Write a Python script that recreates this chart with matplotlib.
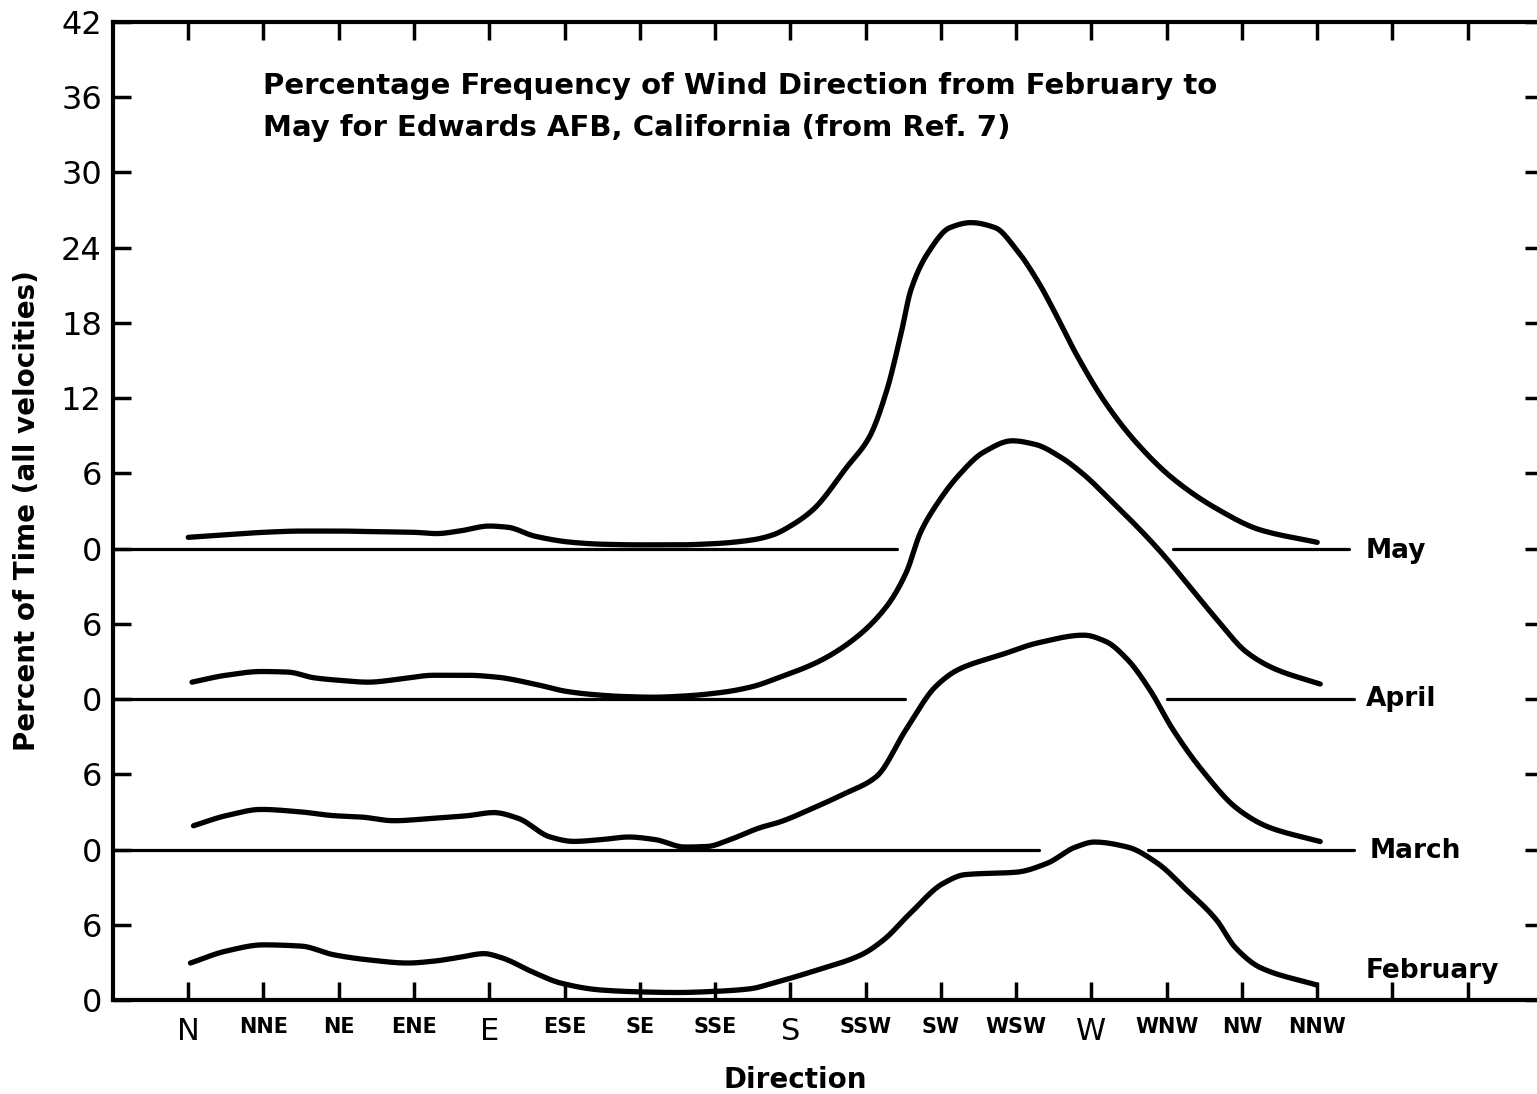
import numpy as np
import matplotlib
matplotlib.use("Agg")
import matplotlib.pyplot as plt

# wind direction categories (x positions 0..15)
directions = ["N", "NNE", "NE", "ENE", "E", "ESE", "SE", "SSE",
              "S", "SSW", "SW", "WSW", "W", "WNW", "NW", "NNW"]

# percent of time (x in direction units)
may_x = [0.0, 0.5, 1.0, 1.5, 2.0, 2.5, 3.0, 3.3, 3.6, 4.0, 4.25, 4.6, 5.1, 5.5,
         6.0, 6.5, 7.0, 7.5, 7.77, 8.0, 8.3, 8.75, 9.05, 9.28, 9.48, 9.6, 9.83,
         10.12, 10.4, 10.72, 11.01, 11.3, 11.5, 11.79, 12.19, 12.59, 13.08,
         13.66, 14.24, 15.0]
may_y = [0.9, 1.1, 1.3, 1.4, 1.4, 1.35, 1.3, 1.2, 1.4, 1.8, 1.7, 1.0, 0.5, 0.35,
         0.3, 0.3, 0.4, 0.7, 1.1, 1.8, 3.1, 6.5, 8.9, 12.6, 17.4, 20.6, 23.6,
         25.6, 26.0, 25.6, 23.8, 21.2, 19.0, 15.6, 11.6, 8.5, 5.6,
         3.2, 1.5, 0.5]

april_x = [0.05, 0.5, 0.97, 1.33, 1.67, 2.0, 2.39, 2.82, 3.26, 3.71, 4.1, 4.6,
           5.04, 5.4, 5.8, 6.18, 6.6, 7.11, 7.5, 7.86, 8.36, 8.85, 9.28, 9.54,
           9.73, 9.93, 10.23, 10.57, 10.95, 11.26, 11.59, 11.9, 12.28, 12.68,
           12.97, 13.26, 13.66, 14.06, 14.44, 15.04]
april_y = [1.35, 1.9, 2.2, 2.15, 1.7, 1.5, 1.35, 1.6, 1.9, 1.9, 1.75, 1.2,
           0.6, 0.35, 0.2, 0.15, 0.25, 0.55, 1.0, 1.75, 2.95, 4.8, 7.4, 10.1,
           13.3, 15.4, 17.8, 19.7, 20.6, 20.3, 19.3, 17.9, 15.7, 13.3,
           11.4, 9.3, 6.4, 3.75, 2.4, 1.2]

march_x = [0.07, 0.5, 0.97, 1.5, 1.94, 2.29, 2.73, 3.26, 3.71, 4.06, 4.38,
           4.81, 5.12, 5.5, 5.85, 6.2, 6.6, 6.9, 7.2, 7.6, 7.86, 8.3, 8.7,
           9.14, 9.54, 9.93, 10.23, 10.81, 11.3, 11.9, 12.19, 12.48, 12.77,
           13.08, 13.46, 13.95, 14.35, 15.04]
march_y = [1.9, 2.7, 3.2, 3.0, 2.7, 2.6, 2.3, 2.5, 2.7, 2.95, 2.5,
           1.0, 0.65, 0.8, 1.0, 0.8, 0.2, 0.25, 0.8, 1.75, 2.2, 3.3, 4.4,
           5.8, 9.6, 13.0, 14.35, 15.55, 16.5, 17.1, 16.6, 15.15, 12.8,
           9.6, 6.4, 3.2, 1.8, 0.64]

feb_x = [0.03, 0.5, 1.0, 1.5, 1.94, 2.4, 2.92, 3.26, 3.6, 3.93, 4.15, 4.59,
         4.95, 5.48, 6.0, 6.5, 7.03, 7.47, 7.77, 8.36, 8.94, 9.24, 9.59, 10.03,
         10.32, 11.01, 11.41, 11.79, 12.04, 12.48, 12.88, 13.26, 13.66, 13.91,
         14.24, 14.99]
feb_y = [2.95, 3.9, 4.4, 4.3, 3.6, 3.2, 2.95, 3.1, 3.4, 3.7, 3.4, 2.2,
         1.35, 0.8, 0.65, 0.6, 0.7, 0.9, 1.35, 2.4, 3.6, 4.8, 6.9, 9.3,
         10.0, 10.2, 10.9, 12.2, 12.6, 12.2, 10.9, 8.8, 6.4, 4.2,
         2.6, 1.2]

months = ["February", "March", "April", "May"]
offsets = [0, 12, 24, 36]
ytick_labels = ["0", "6", "0", "6", "0", "6", "0", "6",
                "12", "18", "24", "30", "36", "42"]

# zero lines are broken where the curve above them passes through
baseline_pieces = {
    "March": [(-1, 11.31), (12.75, 15.49)],
    "April": [(-1, 9.52), (13.0, 15.49)],
    "May": [(-1, 9.42), (13.08, 15.42)],
}


def smooth(xs, ys, n=12):
    # monotone cubic (Fritsch-Carlson) just to draw a smooth pen line
    x = np.asarray(xs, float)
    y = np.asarray(ys, float)
    h = np.diff(x)
    d = np.diff(y) / h
    m = np.zeros_like(y)
    m[0], m[-1] = d[0], d[-1]
    for i in range(1, len(y) - 1):
        if d[i - 1] * d[i] > 0:
            w1 = 2 * h[i] + h[i - 1]
            w2 = h[i] + 2 * h[i - 1]
            m[i] = (w1 + w2) / (w1 / d[i - 1] + w2 / d[i])
    out_x, out_y = [], []
    for i in range(len(x) - 1):
        t = np.linspace(0, 1, n, endpoint=False)
        h00 = 2 * t**3 - 3 * t**2 + 1
        h10 = t**3 - 2 * t**2 + t
        h01 = -2 * t**3 + 3 * t**2
        h11 = t**3 - t**2
        out_x.extend(x[i] + t * h[i])
        out_y.extend(h00 * y[i] + h10 * h[i] * m[i] + h01 * y[i + 1]
                     + h11 * h[i] * m[i + 1])
    out_x.append(x[-1])
    out_y.append(y[-1])
    return np.array(out_x), np.array(out_y)


fig = plt.figure(figsize=(15.37, 10.94), dpi=100)
ax = fig.add_axes([0.0735, 0.0859, 0.9304, 0.894])
ax.set_xlim(-1, 18)
ax.set_ylim(0, 78)

curves = [(feb_x, feb_y), (march_x, march_y), (april_x, april_y), (may_x, may_y)]
for (xs, ys), off in zip(curves, offsets):
    sx, sy = smooth(xs, ys)
    ax.plot(sx, sy + off, color="black", lw=3.8,
            solid_joinstyle="round", solid_capstyle="round")

for name, off in zip(months, offsets):
    for x0, x1 in baseline_pieces.get(name, []):
        ax.plot([x0, x1], [off, off], color="black", lw=2.3,
                solid_capstyle="round")

label_pos = {"May": (15.65, 35.8), "April": (15.65, 24),
             "March": (15.7, 11.9), "February": (15.65, 2.3)}
for name, (lx, ly) in label_pos.items():
    ax.text(lx, ly, name, fontsize=19, fontweight="bold", va="center", ha="left")

for s in ax.spines.values():
    s.set_linewidth(3.0)

ax.set_xticks(range(18))
ax.set_xticklabels(directions + ["", ""])
for lbl, d in zip(ax.get_xticklabels(), directions + ["", ""]):
    if len(d) == 1:
        lbl.set_fontsize(22)
        lbl.set_fontweight("normal")
    else:
        lbl.set_fontsize(15)
        lbl.set_fontweight("bold")
ax.set_yticks(range(0, 79, 6))
ax.set_yticklabels(ytick_labels, fontsize=23)
ax.tick_params(axis="both", direction="in", length=13, width=2.5,
               top=True, right=True)
ax.tick_params(axis="x", pad=12)
ax.tick_params(axis="y", pad=8)

ax.set_xlabel("Direction", fontsize=20, fontweight="bold")
ax.xaxis.set_label_coords(0.477, -0.067)
ax.set_ylabel("Percent of Time (all velocities)", fontsize=20,
              fontweight="bold", labelpad=14)

ax.text(1.0, 74.05, "Percentage Frequency of Wind Direction from February to\n"
        "May for Edwards AFB, California (from Ref. 7)",
        fontsize=21, fontweight="bold", va="top", ha="left", linespacing=1.65)

fig.savefig("out.png", dpi=100)
